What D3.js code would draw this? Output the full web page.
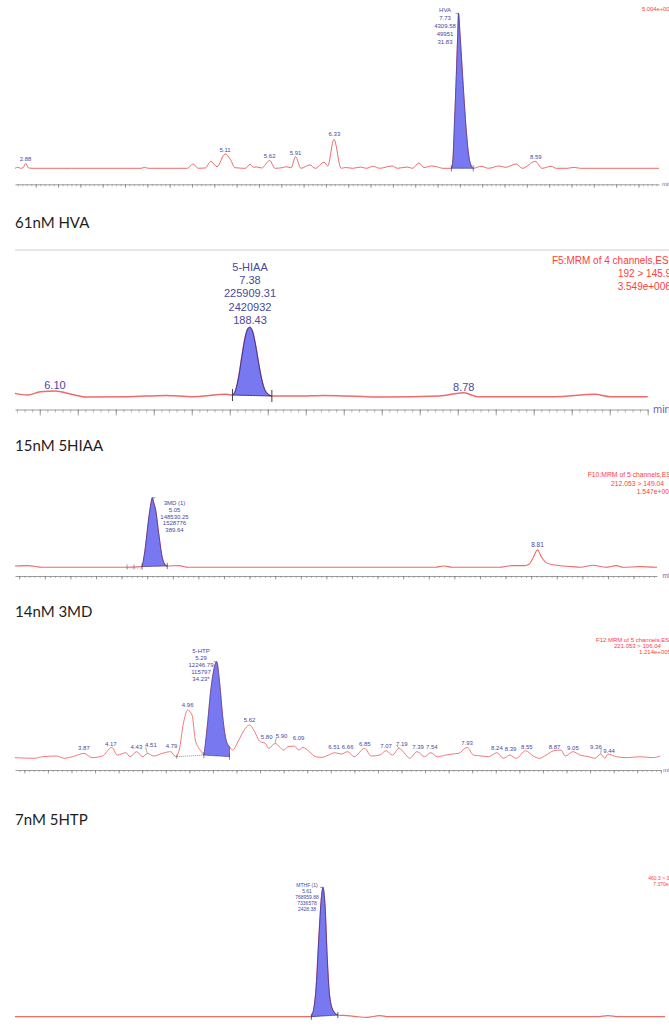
<!DOCTYPE html>
<html><head><meta charset="utf-8">
<script src="https://cdn.jsdelivr.net/npm/d3@7"></script>
<style>body{margin:0;background:#fff}svg{display:block}</style>
</head><body>
<svg id="c" width="669" height="1028"></svg>
<script>
// ---------------- DATA ----------------
const captions = ["61nM HVA", "15nM 5HIAA", "14nM 3MD", "7nM 5HTP"];

// Panel 1 : HVA  [time (min), intensity % of main peak]
const hvaTrace = [[2.768,0],[2.80,0.6],[2.83,0],[2.86,0.4],[2.887,3.2],[2.92,0.2],[2.96,0],[3.40,0],[4.00,0],[4.18,0],[4.22,0.6],[4.26,0],[4.70,0],[4.76,2.8],[4.82,0],[4.90,0.2],[4.96,4.5],[5.03,1.0],[5.12,9.2],[5.18,5.8],[5.23,0.4],[5.35,0],[5.40,2.6],[5.44,0.6],[5.47,0.9],[5.53,0.2],[5.62,5.0],[5.68,0],[5.76,0.4],[5.81,1.0],[5.86,0.3],[5.91,7.5],[5.97,0],[6.07,2.2],[6.13,0],[6.23,3.9],[6.27,1.5],[6.34,18.7],[6.42,0],[6.47,0.5],[6.55,0],[6.64,0.8],[6.70,0],[6.78,1.3],[6.85,0],[6.99,1.5],[7.05,0],[7.16,0.8],[7.22,0],[7.29,3.4],[7.35,0.5],[7.43,1.5],[7.49,1.0],[7.56,0],[7.655,0],[7.67,4],[7.69,30],[7.71,60],[7.725,85],[7.735,100],[7.75,88],[7.775,65],[7.80,42],[7.825,22],[7.85,8],[7.875,2],[7.90,0],[7.99,1.3],[8.07,0],[8.19,1.5],[8.26,0.6],[8.38,2.8],[8.45,0],[8.595,4.5],[8.67,0],[8.77,1.3],[8.83,0],[8.95,0],[9.03,0.6],[9.10,0],[9.98,0]];
const hvaPeak = [7.655, 7.90, 0, 0, 7.735];
const hvaInfo = ["HVA", "7.73", "4309.58", "49951", "31.83"];
const hvaLabels = [["2.88",2.887,5.8],["5.11",5.12,11.8],["5.62",5.62,8],["5.91",5.91,10.1],["6.33",6.345,21.9],["8.59",8.60,7.5]];
const hvaHeader = ["5.004e+006"];

// Panel 2 : 5-HIAA
const hiaaTrace = [[5.837,4.8],[5.92,2.4],[6.005,7.2],[6.104,8.2],[6.202,3.8],[6.314,-0.5],[6.58,0],[6.834,1.9],[7.002,0],[7.227,3.4],[7.268,2.4],[7.29,10],[7.31,30],[7.33,58],[7.35,84],[7.365,96],[7.381,100],[7.40,94],[7.42,74],[7.44,48],[7.46,25],[7.48,10],[7.50,4],[7.527,1],[7.703,1],[7.871,1.9],[8.265,-0.5],[8.63,1],[8.79,5.8],[8.882,0],[9.387,0],[9.653,3.4],[9.753,0],[10.0,0]];
const hiaaPeak = [7.268, 7.527, 2.4, 1, 7.381];
const hiaaInfo = ["5-HIAA", "7.38", "225909.31", "2420932", "188.43"];
const hiaaLabels = [["6.10",6.10,16.8],["8.78",8.79,14.4]];
const hiaaHeader = ["F5:MRM of 4 channels,ES+", "192 > 145.9", "3.549e+006"];

// Panel 3 : 3MD
const mdTrace = [[3.709,1.9],[3.833,2.4],[3.98,0],[4.771,0],[4.950,1],[4.979,25],[5.013,68],[5.035,90],[5.05,100],[5.065,92],[5.083,82],[5.112,49],[5.146,15],[5.179,3],[5.196,1.9],[5.313,2.4],[5.396,0],[7.813,0],[7.896,1.9],[7.979,0],[8.437,0],[8.563,2.4],[8.687,2.4],[8.729,4.3],[8.77,14],[8.812,25],[8.85,15],[8.895,6.7],[8.979,3.3],[9.146,1],[9.229,0],[9.354,2.9],[9.479,0],[9.583,2.4],[9.646,0],[9.813,1],[9.979,0]];
const mdPeak = [4.95, 5.196, 1, 1.9, 5.05];
const mdInfo = ["3MD (1)", "5.05", "148530.25", "1528776", "389.64"];
const mdLabels = [["8.81",8.812,32]];
const mdMarks = [4.803, 4.871];
const mdHeader = ["F10:MRM of 5 channels,ES+", "212.053 > 149.04", "1.547e+006"];

// Panel 4 : 5-HTP
const htpTrace = [[3.150,-1],[3.354,-1.7],[3.444,0],[3.594,0.7],[3.671,-1.7],[3.761,0],[3.883,3.5],[3.965,-1],[4.078,0.7],[4.178,9.8],[4.236,1.7],[4.327,4.2],[4.372,0],[4.440,5.3],[4.507,0],[4.553,3.5],[4.621,0.7],[4.711,3.5],[4.801,5.3],[4.856,0],[4.892,7.0],[4.937,35],[4.982,49],[5.028,44],[5.064,17.5],[5.096,9.8],[5.128,5.3],[5.154,1.7],[5.186,28],[5.232,74],[5.290,100],[5.322,77],[5.354,42],[5.390,17.5],[5.426,10.5],[5.458,7.0],[5.525,17.5],[5.593,29.8],[5.639,33.3],[5.683,28],[5.751,15.8],[5.806,14.0],[5.842,8.8],[5.910,14.0],[5.955,10.5],[6.000,7.0],[6.046,10.5],[6.114,11.2],[6.159,7.0],[6.204,9.8],[6.272,5.3],[6.340,0],[6.408,-0.7],[6.476,1.7],[6.543,4.2],[6.611,2.8],[6.679,5.3],[6.747,0],[6.860,8.8],[6.928,0.7],[7.019,1.7],[7.086,6.3],[7.154,1.7],[7.222,8.8],[7.290,2.8],[7.336,-1.7],[7.416,5.3],[7.494,0],[7.561,4.2],[7.629,0],[7.719,1.7],[7.787,2.8],[7.855,3.5],[7.946,9.8],[8.013,1.7],[8.104,0.7],[8.172,0],[8.262,4.2],[8.330,-1.7],[8.398,1.7],[8.466,-1.7],[8.566,6.3],[8.647,0.7],[8.715,-1.7],[8.783,1.7],[8.865,6.3],[8.941,7.0],[8.987,0.7],[9.068,5.3],[9.145,1.7],[9.235,0],[9.303,-1.7],[9.362,2.8],[9.407,-1.7],[9.439,2.8],[9.530,0],[9.643,-1],[9.778,0],[9.914,-1],[9.995,0.7]];
const htpPeak = [5.154, 5.426, 1.7, 0, 5.29];
const htpInfo = ["5-HTP", "5.29", "12246.79", "115797", "34.23*"];
// [text, label position (min), label level, peak time, peak level]
const htpLabels = [["3.87",3.882,8.8],["4.17",4.167,14],["4.43",4.439,9.8],["4.51",4.593,12.3,4.553,3.5],["4.79",4.811,11.2],["4.96",4.982,54.4],["5.62",5.639,38.6],["5.80",5.820,20.4],["5.90",5.978,21.8,5.910,14],["6.09",6.159,19.3],["6.51",6.534,9.8],["6.66",6.679,9.8],["6.85",6.860,13.3],["7.07",7.086,11.6],["7.19",7.254,14,7.222,8.8],["7.39",7.426,9.8],["7.54",7.571,9.8],["7.93",7.946,14.7],["8.24",8.262,8.8],["8.39",8.407,7.7],["8.55",8.579,9.8],["8.87",8.873,9.8],["9.05",9.068,8.8],["9.36",9.312,10.5,9.362,2.8],["9.44",9.452,6.3]];
const htpDotBase = [4.867, 0, 5.154, 1.7];
const htpHeader = ["F12:MRM of 5 channels,ES+", "221.053 > 106.04", "1.214e+005"];

// Panel 5 : MTHF
const mthfTrace = [[1.656,0],[5.297,0],[5.461,0],[5.516,18],[5.560,64],[5.587,90],[5.610,100],[5.637,85],[5.664,46],[5.692,18],[5.736,5.2],[5.801,1.3],[5.872,1.0],[6.01,0.3],[6.174,-0.5],[6.338,0.8],[6.447,0],[9.131,0],[9.267,0.8],[9.404,0],[10.0,0]];
const mthfPeak = [5.461, 5.801, 0, 1.3, 5.61];
const mthfInfo = ["MTHF (1)", "5.61", "768959.88", "7336578", "2428.38"];
const mthfHeader = ["460.3 > 313.2", "7.370e+005"];

// ---------------- DRAWING ----------------
const svg = d3.select('#c');
const FONT = "'Liberation Sans', Arial, sans-serif";
const TRACE = "#f06a6a", FILL = "#7878f0", EDGE = "#2e2e8e", LBL = "#4848a0", RED = "#ff3c3c";

const panels = [
  {trace:hvaTrace, peak:hvaPeak, info:hvaInfo, labels:hvaLabels, header:hvaHeader,
   dom:[2.768,9.98], xr:[15,659], y0:168.3, y100:13.3, axisY:184.3, tMinor:2, tMajor:3.5, unitX:662, unitFs:6,
   lw:1, infoX:445, infoY0:10.3, infoDy:7.85, infoFs:6, labFs:6, apexDir:-1, mark:3,
   hx:[642], hy0:9, hdy:7, hfs:5.8},
  {trace:hiaaTrace, peak:hiaaPeak, info:hiaaInfo, labels:hiaaLabels, header:hiaaHeader,
   dom:[5.837,10.0], xr:[15,647.7], y0:396.7, y100:327.3, axisY:409.5, tMinor:3, tMajor:6, unitX:653, unitFs:11,
   lw:1.5, infoX:250, infoY0:267, infoDy:13.3, infoFs:11, labFs:11, apexDir:0, mark:6, sep:250,
   hx:[552,618,617.7], hy0:260, hdy:13, hfs:10},
  {trace:mdTrace, peak:mdPeak, info:mdInfo, labels:mdLabels, header:mdHeader, marks:mdMarks,
   dom:[3.709,9.979], xr:[15,657], y0:567.3, y100:497.7, axisY:576, tMinor:2, tMajor:3.5, unitX:662.5, unitFs:6.5,
   lw:1.1, infoX:174.5, infoY0:503, infoDy:6.75, infoFs:6, labFs:6.5, apexDir:1, mark:3,
   hx:[587.7,611,636.7], hy0:475, hdy:8.5, hfs:6.8},
  {trace:htpTrace, peak:htpPeak, info:htpInfo, labels:htpLabels, header:htpHeader, dot:htpDotBase,
   dom:[3.151,10.0], xr:[15,660.8], y0:756.7, y100:661.7, axisY:770, tMinor:2, tMajor:3.5, unitX:663, unitFs:6,
   lw:0.9, infoX:201, infoY0:651, infoDy:6.9, infoFs:6, labFs:6, apexDir:-1, mark:3,
   hx:[596,614,639], hy0:640, hdy:5.7, hfs:6},
  {trace:mthfTrace, peak:mthfPeak, info:mthfInfo, labels:[], header:mthfHeader,
   dom:[1.657,10.0], xr:[15,665], y0:1016.7, y100:887.3, axisY:null,
   lw:1.2, infoX:307, infoY0:885, infoDy:6.1, infoFs:5, labFs:5, apexDir:-1, mark:3,
   hx:[648.3,653.3], hy0:878.3, hdy:5.8, hfs:5}
];
const captionY = [223, 446, 612, 820];

function ticksFor(dom, step) {
  const out = [];
  for (let k = Math.ceil(dom[0]/step - 1e-6); k*step <= dom[1] + 1e-6; k++) out.push(+(k*step).toFixed(4));
  return out;
}

panels.forEach(c => {
  const g = svg.append('g');
  const x = d3.scaleLinear().domain(c.dom).range(c.xr);
  const y = d3.scaleLinear().domain([0,100]).range([c.y0, c.y100]);

  if (c.sep != null) {
    g.append('line').attr('x1',15).attr('x2',669).attr('y1',c.sep).attr('y2',c.sep)
      .attr('stroke','#cfcfcf').attr('stroke-width',1);
  }

  // axis
  if (c.axisY != null) {
    const ax = g.append('g').attr('transform',`translate(0,${c.axisY})`)
      .call(d3.axisBottom(x).tickValues(ticksFor(c.dom,0.05)).tickSize(c.tMinor).tickSizeOuter(0).tickFormat(''));
    ax.select('.domain').attr('stroke','#9c9c9c').attr('stroke-width',1);
    ax.selectAll('.tick line').attr('stroke','#8a8a8a').attr('stroke-width',0.6);
    const ax2 = g.append('g').attr('transform',`translate(0,${c.axisY})`)
      .call(d3.axisBottom(x).tickValues(ticksFor(c.dom,0.25)).tickSize(c.tMajor).tickSizeOuter(0).tickFormat(''));
    ax2.select('.domain').remove();
    ax2.selectAll('.tick line').attr('stroke','#7a7a7a').attr('stroke-width',0.7);
    g.append('text').attr('x',c.unitX).attr('y',c.axisY + c.unitFs*0.35)
      .attr('font-family',FONT).attr('font-size',c.unitFs).attr('fill','#6a6ab4').text('min');
  }

  // trace
  const line = d3.line().x(d=>x(d[0])).y(d=>y(d[1])).curve(d3.curveMonotoneX);
  g.append('path').attr('d', line(c.trace)).attr('fill','none')
    .attr('stroke',TRACE).attr('stroke-width',c.lw).attr('stroke-linejoin','round');

  // integrated peak
  const [ts, te, bs, be, tApex] = c.peak;
  const pk = c.trace.filter(d => d[0] >= ts - 1e-9 && d[0] <= te + 1e-9);
  const base = t => bs + (be - bs) * (t - ts) / (te - ts);
  const area = d3.area().x(d=>x(d[0])).y0(d=>y(base(d[0]))).y1(d=>y(d[1])).curve(d3.curveMonotoneX);
  g.append('path').attr('d', area(pk)).attr('fill',FILL)
    .attr('stroke',EDGE).attr('stroke-width',c.lw*0.6).attr('stroke-linejoin','round');
  [[ts,bs],[te,be]].forEach(p => {
    g.append('line').attr('x1',x(p[0])).attr('x2',x(p[0]))
      .attr('y1',y(p[1]) - c.mark).attr('y2',y(p[1]) + c.mark)
      .attr('stroke','#444').attr('stroke-width',c.lw*0.7);
  });
  if (c.apexDir) {
    g.append('line').attr('x1',x(tApex)).attr('x2',x(tApex) + c.apexDir*3)
      .attr('y1',y(100)).attr('y2',y(100)).attr('stroke','#555').attr('stroke-width',0.6);
  }
  if (c.marks) {
    c.marks.forEach(t => {
      g.append('line').attr('x1',x(t)).attr('x2',x(t)).attr('y1',y(0)-3).attr('y2',y(0)+2)
        .attr('stroke','#666').attr('stroke-width',0.6);
    });
    g.append('line').attr('x1',x(c.marks[0])).attr('x2',x(ts)).attr('y1',y(0)+1.5).attr('y2',y(0)+1.5)
      .attr('stroke','#888').attr('stroke-width',0.5).attr('stroke-dasharray','1,1.5');
  }
  if (c.dot) {
    g.append('line').attr('x1',x(c.dot[0])).attr('y1',y(c.dot[1])).attr('x2',x(c.dot[2])).attr('y2',y(c.dot[3]))
      .attr('stroke','#444').attr('stroke-width',0.6).attr('stroke-dasharray','1,1');
    g.append('line').attr('x1',x(c.dot[0])).attr('x2',x(c.dot[0])).attr('y1',y(c.dot[1])-2).attr('y2',y(c.dot[1])+2)
      .attr('stroke','#444').attr('stroke-width',0.6);
  }

  // peak info block
  c.info.forEach((s,i) => {
    g.append('text').attr('x',c.infoX).attr('y',c.infoY0 + i*c.infoDy + c.infoFs*0.35)
      .attr('text-anchor','middle').attr('font-family',FONT).attr('font-size',c.infoFs)
      .attr('fill',LBL).text(s);
  });

  // retention time labels (with leader lines when displaced)
  c.labels.forEach(l => {
    g.append('text').attr('x',x(l[1])).attr('y',y(l[2]) + c.labFs*0.35)
      .attr('text-anchor','middle').attr('font-family',FONT).attr('font-size',c.labFs)
      .attr('fill',LBL).text(l[0]);
    if (l.length > 3) {
      const side = l[1] > l[3] ? -1 : 1;
      g.append('line').attr('x1',x(l[3])).attr('y1',y(l[4]) - 0.5)
        .attr('x2',x(l[1]) + side*c.labFs*0.9).attr('y2',y(l[2]) + c.labFs*0.35)
        .attr('stroke','#555').attr('stroke-width',0.5);
    }
  });

  // header (red, top right)
  c.header.forEach((s,i) => {
    g.append('text').attr('x',c.hx[i]).attr('y',c.hy0 + i*c.hdy + c.hfs*0.35)
      .attr('font-family',FONT).attr('font-size',c.hfs).attr('fill',RED).text(s);
  });
});

// captions
captions.forEach((s,i) => {
  svg.append('text').attr('x',15).attr('y',captionY[i] + 5.2)
    .attr('font-family',"Lato, 'Open Sans', sans-serif").attr('font-size',15)
    .attr('fill','#1e1e1e').text(s);
});
</script>
</body></html>
